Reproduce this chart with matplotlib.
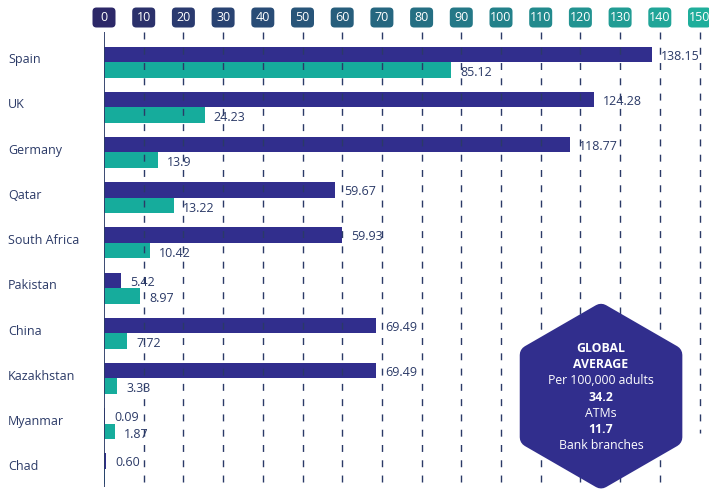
import numpy as np
import matplotlib.pyplot as plt
from matplotlib.patches import FancyBboxPatch, Polygon
from matplotlib.transforms import IdentityTransform
from matplotlib.colors import LinearSegmentedColormap

# ATMs (navy) and bank branches (teal) per 100,000 adults
countries = ["Spain", "UK", "Germany", "Qatar", "South Africa", "Pakistan",
             "China", "Kazakhstan", "Myanmar", "Chad"]
atms = [138.0, 123.4, 117.4, 58.2, 59.9, 4.3, 68.5, 68.5, 0.3, 0.6]
branches = [87.4, 25.4, 13.5, 17.6, 11.6, 9.1, 5.8, 3.3, 2.8, 0.3]
atm_labels = ["138.15", "124.28", "118.77", "59.67", "59.93", "5.42",
              "69.49", "69.49", "0.09", "0.60"]
branch_labels = ["85.12", "24.23", "13.9", "13.22", "10.42", "8.97",
                 "7.72", "3.33", "1.87", ""]
ticks = list(range(0, 160, 10))
hex_lines = [("GLOBAL", "bold"), ("AVERAGE", "bold"), ("Per 100,000 adults", "normal"),
             ("34.2", "bold"), ("ATMs", "normal"), ("11.7", "bold"),
             ("Bank branches", "normal")]

NAVY = "#312e8d"
TEAL = "#16ac9c"
INK = "#2b3a67"

plt.rcParams['font.family'] = ['Open Sans', 'DejaVu Sans']

fig = plt.figure(figsize=(7.09, 4.95), dpi=100)
ax = fig.add_axes([104 / 709, 8 / 495, 605 / 709, 455 / 495])

y = np.arange(len(countries))
h = 0.343
ax.barh(y - h / 2, atms, height=h, color=NAVY, zorder=2)
ax.barh(y + h / 2, branches, height=h, color=TEAL, zorder=2)
ax.set_xlim(0, 605 / 3.97)
ax.set_ylim(9.40, -0.664)
ax.axis('off')

# zero line and dashed gridlines
ax.axvline(0, color=INK, lw=1.3, zorder=4)
ax.vlines(ticks[1:-1], -0.664, 9.40, color=INK, lw=1, linestyles=(0, (5, 6)), zorder=3)
ax.vlines(ticks[-1], -0.664, 8.2, color=INK, lw=1, linestyles=(0, (5, 6)), zorder=3)

# value labels
for i in range(len(countries)):
    ax.annotate(atm_labels[i], (atms[i], y[i] - h / 2 + 0.04), xytext=(6.5, 0),
                textcoords='offset points', va='center', ha='left',
                color=INK, fontsize=9, zorder=5)
    if branch_labels[i]:
        ax.annotate(branch_labels[i], (branches[i], y[i] + h / 2 + 0.06), xytext=(6.5, 0),
                    textcoords='offset points', va='center', ha='left',
                    color=INK, fontsize=9, zorder=5)

# category labels
for i, c in enumerate(countries):
    ax.text(-96 / 605, y[i] - 0.05, c, transform=ax.get_yaxis_transform(),
            ha='left', va='center', color=INK, fontsize=9)

# rounded tick boxes along the top, navy -> teal
cmap = LinearSegmentedColormap.from_list("tk", ["#2c2868", "#1fae9b"])
for t in ticks:
    xd = ax.transData.transform((t, 0))[0]
    yd = 495 - 17.5
    box = FancyBboxPatch((xd - 11.5, yd - 10), 23, 20,
                         boxstyle="round,pad=0,rounding_size=4",
                         fc=cmap(t / 150), ec='none', transform=IdentityTransform())
    fig.add_artist(box)
    fig.text(xd, yd, str(t), transform=IdentityTransform(), ha='center',
             va='center', color='white', fontsize=9)

# global average hexagon
cx, cy = ax.transData.transform((125.2, 7.39))
r = 10
R_in = (81.3 - r) / np.cos(np.pi / 6)
ang = np.deg2rad([90, 150, 210, 270, 330, 30])
verts = np.column_stack([cx + R_in * np.cos(ang), cy + R_in * np.sin(ang)])
hexa = Polygon(verts, closed=True, fc=NAVY, ec=NAVY, lw=2 * r * 72 / 100,
               joinstyle='round', transform=IdentityTransform(), zorder=6)
fig.add_artist(hexa)
for k, (s, w) in enumerate(hex_lines):
    fig.text(cx, cy - 1 - (k - 3) * 16.2, s, transform=IdentityTransform(),
             ha='center', va='center', color='white', fontsize=8.8, fontweight=w,
             zorder=7)

fig.savefig("out.png", dpi=100)
